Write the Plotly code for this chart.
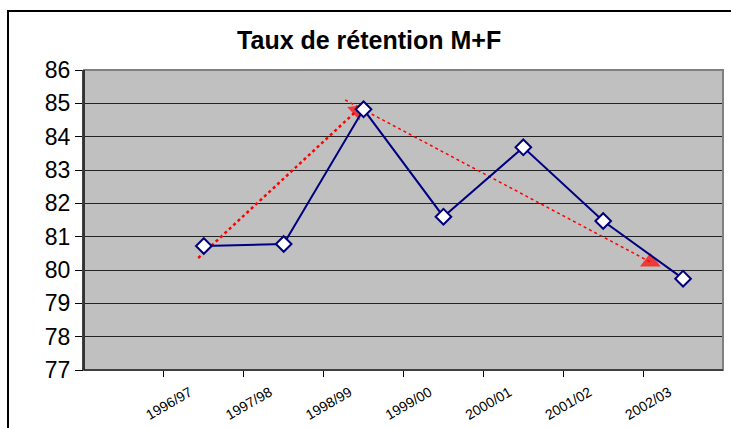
import plotly.graph_objects as go

# Data
years = ["1996/97", "1997/98", "1998/99", "1999/00", "2000/01", "2001/02", "2002/03"]
taux = [80.72, 80.78, 84.82, 81.6, 83.68, 81.47, 79.74]
# trend arrows (start/end in slot index / value units)
arrow1_x = [0.93, 2.91]
arrow1_y = [80.36, 84.77]
arrow2_x = [2.77, 6.59]
arrow2_y = [85.1, 80.24]

positions = [i + 1 for i in range(len(years))]
boundaries = [i + 0.5 for i in range(len(years))]

fig = go.Figure()
fig.add_trace(go.Scatter(
    x=arrow1_x, y=arrow1_y, mode="lines+markers",
    line=dict(color="#FF0000", width=2.5, dash="dot"),
    marker=dict(symbol="triangle-up", size=[0, 16], color="#FF0000",
                angleref="previous", line=dict(width=0)),
    hoverinfo="skip", showlegend=False, cliponaxis=False))
fig.add_trace(go.Scatter(
    x=arrow2_x, y=arrow2_y, mode="lines+markers",
    line=dict(color="#FF0000", width=1.5, dash="dot"),
    marker=dict(symbol="triangle-up", size=[0, 18], color="#FF0000",
                line=dict(width=0)),
    hoverinfo="skip", showlegend=False, cliponaxis=False))
fig.add_trace(go.Scatter(
    x=positions, y=taux, mode="lines+markers",
    line=dict(color="#000080", width=2),
    marker=dict(symbol="diamond", size=12, color="white",
                line=dict(color="#000080", width=2)),
    showlegend=False, cliponaxis=False))

W, H = 731, 428
L, R, T, B = 84, 8, 70, 58
pw, ph = W - L - R, H - T - B

def px_x(p):
    return (p - L) / pw

def px_y(p):
    return (H - B - p) / ph

fig.update_layout(
    width=W, height=H,
    margin=dict(l=L, r=R, t=T, b=B, pad=0, autoexpand=False),
    paper_bgcolor="white", plot_bgcolor="#C0C0C0",
    font=dict(family="Liberation Sans, Arial, sans-serif", color="black"),
    title=dict(text="<b>Taux de rétention M+F</b>", x=0.505, xref="container",
               y=1 - 40 / H, yref="container", yanchor="middle", xanchor="center",
               font=dict(size=25, color="black")),
    xaxis=dict(range=[-0.5, 7.5], tickvals=positions, ticktext=years,
               tickangle=-30, ticks="", showgrid=False, zeroline=False,
               automargin=False,
               tickfont=dict(size=14, color="black"),
               ticklabelstandoff=8, ticklabelshift=-14,
               showline=True, linecolor="black", linewidth=1,
               minor=dict(tickvals=boundaries, ticks="outside", ticklen=6,
                          tickcolor="black", showgrid=False)),
    yaxis=dict(range=[77, 86], dtick=1, tick0=77, ticks="outside", ticklen=7,
               automargin=False,
               tickcolor="black", showgrid=True, gridcolor="#222222", gridwidth=1,
               zeroline=False, showline=True, linecolor="#444444", linewidth=2,
               tickfont=dict(size=23, color="black")),
    shapes=[
        dict(type="rect", xref="paper", yref="paper", x0=0, x1=1, y0=0, y1=1,
             line=dict(color="#808080", width=2), layer="above"),
        dict(type="line", xref="paper", yref="paper", x0=0, x1=0, y0=0, y1=1,
             line=dict(color="#333333", width=2), layer="above"),
        dict(type="line", xref="paper", yref="paper", x0=0, x1=1, y0=0, y1=0,
             line=dict(color="black", width=1), layer="above"),
        dict(type="rect", xref="paper", yref="paper",
             x0=px_x(8), x1=px_x(745), y0=px_y(440), y1=px_y(11),
             line=dict(color="black", width=2), layer="above"),
    ],
)

fig.write_html(
    "out.html",
    config={"displayModeBar": False},
    post_script="document.body.style.margin='0';document.body.style.overflow='hidden';",
)
